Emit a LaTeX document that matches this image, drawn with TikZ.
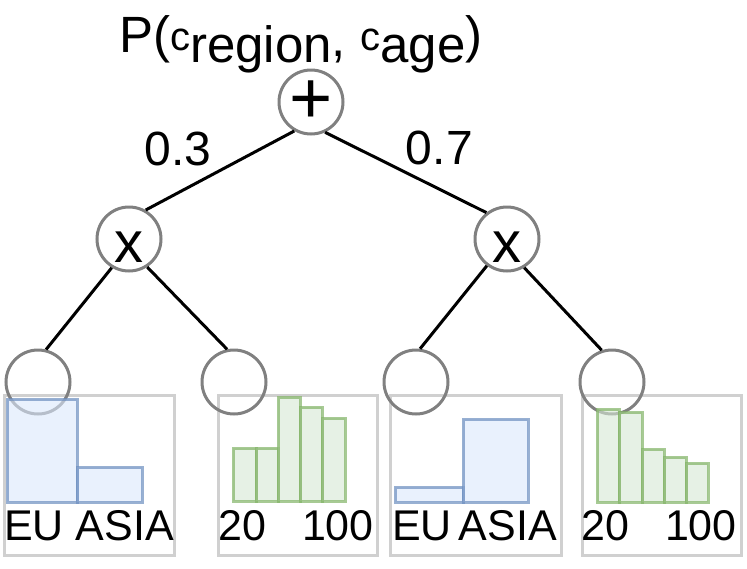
\documentclass[tikz,border=0pt]{standalone}
\usepackage{fontspec}
\setmainfont{Liberation Sans}
\usepackage{tikz}
\usetikzlibrary{trees}

\definecolor{ringgray}{HTML}{808080}
\definecolor{boxgray}{HTML}{D0D0D0}
\definecolor{regfill}{HTML}{DAE8FC}
\definecolor{regline}{HTML}{6C8EBF}
\definecolor{agefill}{HTML}{D5E8D4}
\definecolor{ageline}{HTML}{82B366}

\tikzset{
  frame/.style={draw=boxgray, line width=3pt},
  regbar/.style={fill=regfill, draw=regline, line width=3pt, fill opacity=0.6, draw opacity=0.7},
  agebar/.style={fill=agefill, draw=ageline, line width=3pt, fill opacity=0.6, draw opacity=0.7},
  ticklabel/.style={inner sep=0pt, font=\fontsize{43}{50}\selectfont},
  weight/.style={inner sep=0pt, font=\fontsize{48}{56}\selectfont}
}

\begin{document}
\begin{tikzpicture}[x=1pt, y=-1pt,
      level 1/.style={level distance=137pt, sibling distance=378pt},
      level 2/.style={level distance=143pt, sibling distance=196pt},
      every child/.style={xshift=7pt},
      edge from parent/.style={draw=black, line width=3pt},
      spn/.style={circle, draw=ringgray, line width=3pt, minimum size=64pt, inner sep=0pt},
      every child node/.style={spn}
    ]
    \useasboundingbox (0,0) rectangle (747,568);

    % histogram frames
    \draw[frame] (4,395) rectangle (174,555);
    \draw[frame] (218,395) rectangle (377,555);
    \draw[frame] (390,395) rectangle (561,555);
    \draw[frame] (582,395) rectangle (741,555);

    \node (title) [anchor=base west, inner sep=0pt, font=\fontsize{51}{60}\selectfont] at (119,52)
      {P(\raisebox{2pt}{\fontsize{40}{40}\selectfont c}\raisebox{-10pt}{region}\raisebox{-4pt}{,}
       \raisebox{2pt}{\fontsize{40}{40}\selectfont c}\raisebox{-10pt}{age})};

    \node (sum) [spn, font=\fontsize{74}{80}\selectfont] at (311,102) {+}
      child[parent anchor=-120, child anchor=60] {node (prodL) [font=\fontsize{58}{60}\selectfont, text height=46pt, text depth=0pt] {x}
        child[parent anchor=-121, child anchor=76] {node (regL) {}}
        child[parent anchor=-57, child anchor=102] {node (ageL) {}}
        edge from parent node[weight, pos=0.46, anchor=south east, xshift=-13pt] {0.3}
      }
      child[parent anchor=-65, child anchor=128] {node (prodR) [font=\fontsize{58}{60}\selectfont, text height=46pt, text depth=0pt] {x}
        child[parent anchor=-127, child anchor=83] {node (regR) {}}
        child[parent anchor=-59, child anchor=108] {node (ageR) {}}
        edge from parent node[weight, pos=0.43, anchor=south west, xshift=10pt] {0.7}
      };

    % leaf distributions
    \draw[regbar] (7,399) rectangle (77,502);
    \draw[regbar] (77,467) rectangle (142,502);
    \draw[regbar] (395,487) rectangle (463,502);
    \draw[regbar] (463,419) rectangle (528,502);
    \foreach \xa/\xb/\h in {233/256/448, 256/278/448, 278/300/397, 300/322/407, 322/345/418}
      \draw[agebar] (\xa,\h) rectangle (\xb,501);
    \foreach \xa/\xb/\h in {597/619/409, 619/642/412, 642/664/449, 664/686/457, 686/708/463}
      \draw[agebar] (\xa,\h) rectangle (\xb,502);

    \node (euL) [ticklabel, anchor=base west] at (4,540) {EU};
    \node (asiaL) [ticklabel, anchor=base east] at (174,540) {ASIA};
    \node (lowL) [ticklabel, anchor=base west] at (218,540) {20};
    \node (highL) [ticklabel, anchor=base east] at (374,540) {100};
    \node (euR) [ticklabel, anchor=base west] at (392,540) {EU};
    \node (asiaR) [ticklabel, anchor=base east] at (557,540) {ASIA};
    \node (lowR) [ticklabel, anchor=base west] at (581,540) {20};
    \node (highR) [ticklabel, anchor=base east] at (737,540) {100};
\end{tikzpicture}
\end{document}
